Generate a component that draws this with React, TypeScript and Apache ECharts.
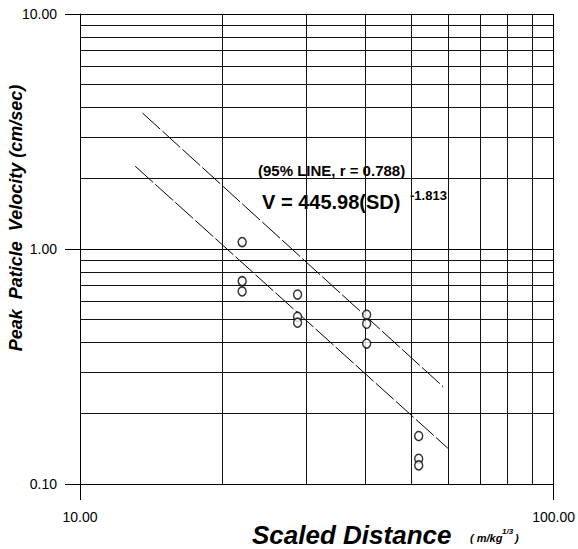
import React, { useEffect, useRef } from "react";
import * as echarts from "echarts";

const scaledDistance = [22, 22, 22, 28.8, 28.8, 28.8, 40.3, 40.3, 40.3, 51.9, 51.9, 51.9];
const peakVelocity = [1.07, 0.73, 0.66, 0.64, 0.515, 0.486, 0.525, 0.481, 0.396, 0.16, 0.128, 0.12];

const upperLineX = [13.55, 58.5];
const upperLineY = [3.79, 0.259];
const lowerLineX = [13.08, 59.8];
const lowerLineY = [2.25, 0.142];

const minorX = [20, 30, 40, 50, 60, 70, 80, 90];
const minorY = [0.2, 0.3, 0.4, 0.5, 0.6, 0.7, 0.8, 0.9, 2, 3, 4, 5, 6, 7, 8, 9];

const FONT = 'Arial, "Liberation Sans", sans-serif';

export default function App() {
  const ref = useRef<HTMLDivElement>(null);
  useEffect(() => {
    if (!ref.current) return;
    const chart = echarts.init(ref.current, null, { renderer: "svg" });
    const points = scaledDistance.map((x, i) => [x, peakVelocity[i]]);
    const upper = upperLineX.map((x, i) => [x, upperLineY[i]]);
    const lower = lowerLineX.map((x, i) => [x, lowerLineY[i]]);
    chart.setOption({
      animation: false,
      backgroundColor: "#fff",
      grid: { left: 80, right: 21, top: 14, bottom: 65 },
      xAxis: {
        type: "log",
        logBase: 10,
        min: 10,
        max: 100,
        axisLine: { show: true, lineStyle: { color: "#000", width: 1 } },
        axisTick: { show: true, length: 16, lineStyle: { color: "#000", width: 1 } },
        axisLabel: {
          color: "#000",
          fontSize: 14,
          fontFamily: FONT,
          margin: 26,
          formatter: (v: number) => v.toFixed(2),
        },
        splitLine: { show: true, lineStyle: { color: "#000", width: 1 } },
      },
      yAxis: {
        type: "log",
        logBase: 10,
        min: 0.1,
        max: 10,
        axisLine: { show: true, lineStyle: { color: "#000", width: 1 } },
        axisTick: { show: true, length: 15, lineStyle: { color: "#000", width: 1 } },
        axisLabel: {
          color: "#000",
          fontSize: 14,
          fontFamily: FONT,
          margin: 23,
          formatter: (v: number) => v.toFixed(2),
        },
        splitLine: { show: true, lineStyle: { color: "#000", width: 1 } },
      },
      series: [
        {
          type: "line",
          data: [],
          markLine: {
            silent: true,
            symbol: "none",
            label: { show: false },
            lineStyle: { color: "#111", width: 1, type: "solid" },
            data: [
              ...minorX.map((v) => ({ xAxis: v })),
              ...minorY.map((v) => ({ yAxis: v })),
            ],
          },
        },
        {
          type: "line",
          data: upper,
          showSymbol: false,
          lineStyle: { color: "#000", width: 1, type: [24, 3] },
        },
        {
          type: "line",
          data: lower,
          showSymbol: false,
          lineStyle: { color: "#000", width: 1, type: [24, 3] },
        },
        {
          type: "scatter",
          data: points,
          symbol: "circle",
          symbolSize: [8, 9],
          itemStyle: { color: "#fff", borderColor: "#000", borderWidth: 1.5 },
          z: 5,
        },
      ],
      graphic: [
        {
          type: "text",
          x: 258,
          y: 170,
          style: {
            text: "(95% LINE, r = 0.788)",
            font: `bold 15px ${FONT}`,
            fill: "#000",
            verticalAlign: "middle",
          },
        },
        {
          type: "text",
          x: 262,
          y: 202,
          style: {
            text: "V = 445.98(SD)",
            font: `bold 20px ${FONT}`,
            fill: "#000",
            verticalAlign: "middle",
          },
        },
        {
          type: "text",
          x: 410,
          y: 195,
          style: {
            text: "-1.813",
            font: `bold 13px ${FONT}`,
            fill: "#000",
            verticalAlign: "middle",
          },
        },
        {
          type: "text",
          x: 16,
          y: 218,
          rotation: Math.PI / 2,
          style: {
            text: "Peak  Paticle  Velocity (cm/sec)",
            font: `italic bold 18px ${FONT}`,
            fill: "#000",
            align: "center",
            verticalAlign: "middle",
          },
        },
        {
          type: "text",
          x: 252,
          y: 535,
          style: {
            text: "Scaled Distance",
            font: `italic bold 26px ${FONT}`,
            fill: "#000",
            verticalAlign: "middle",
          },
        },
        {
          type: "text",
          x: 470,
          y: 538,
          style: {
            text: "( m/kg",
            font: `italic bold 11px ${FONT}`,
            fill: "#000",
            verticalAlign: "middle",
          },
        },
        {
          type: "text",
          x: 502,
          y: 531,
          style: {
            text: "1/3",
            font: `italic bold 8px ${FONT}`,
            fill: "#000",
            verticalAlign: "middle",
          },
        },
        {
          type: "text",
          x: 515,
          y: 538,
          style: {
            text: ")",
            font: `italic bold 11px ${FONT}`,
            fill: "#000",
            verticalAlign: "middle",
          },
        },
      ],
    });
    return () => chart.dispose();
  }, []);
  return (
    <div
      ref={ref}
      style={{ position: "fixed", left: 0, top: 0, width: 578, height: 549, background: "#fff" }}
    />
  );
}
